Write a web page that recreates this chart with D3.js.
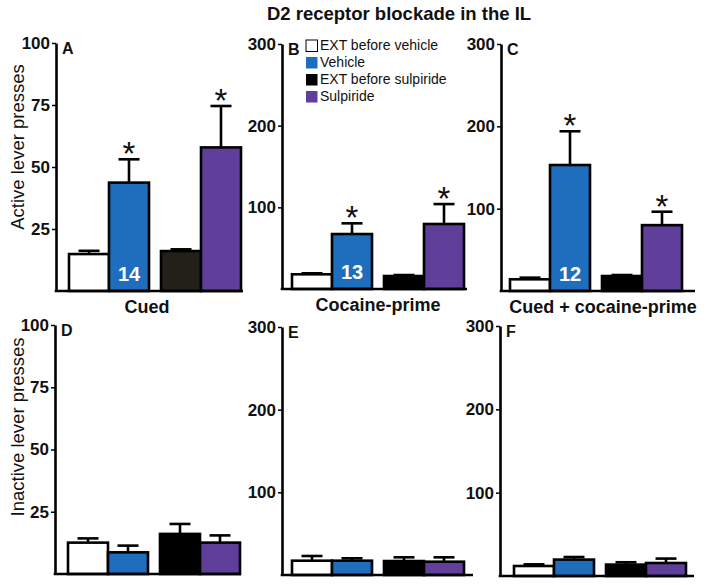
<!DOCTYPE html>
<html><head><meta charset="utf-8">
<script src="https://cdn.jsdelivr.net/npm/d3@7"></script>
<style>
html,body{margin:0;padding:0;background:#fff;}
svg{display:block;font-family:"Liberation Sans",Arial,sans-serif;}
</style></head>
<body>
<svg id="chart" width="708" height="585"></svg>
<script>
// ---------------- data ----------------
const title = "D2 receptor blockade in the IL";
const groups = ["EXT before vehicle", "Vehicle", "EXT before sulpiride", "Sulpiride"];
const tests = ["Cued", "Cocaine-prime", "Cued + cocaine-prime"];
const panelLetters = ["A", "B", "C", "D", "E", "F"];
const nLabels = ["14", "13", "12"];
const activeMeans = [[14.9, 43.7, 16.1, 57.9], [18.0, 67.3, 15.9, 79.6], [14.2, 153, 18.2, 80.0]];
const activeSEM   = [[1.3, 9.4, 0.7, 16.7], [1.2, 13.1, 1.2, 24.4], [2.0, 41.0, 1.2, 16.3]];
const activeSig   = [[false, true, false, true], [false, true, false, true], [false, true, false, true]];
const inactiveMeans = [[12.6, 8.7, 16.1, 12.6], [17.3, 17.3, 16.9, 16.1], [12.0, 19.7, 13.7, 15.6]];
const inactiveSEM   = [[1.7, 2.7, 4.0, 2.9], [5.7, 2.9, 4.5, 5.3], [2.0, 3.1, 2.8, 5.3]];
const yMax = [100, 300, 300];
const yTicks = [[25, 50, 75, 100], [100, 200, 300], [100, 200, 300]];
const yLabels = ["Active lever presses", "Inactive lever presses"];

// ---------------- layout / style ----------------
const colors = ["#ffffff", "#1f6ebe", "#000000", "#5f3f99"];
const layout = [
  {axisX: 56,  y0: 291, yTop: 43,  xEnd: 243, first: 69,  catX: 147},
  {axisX: 282, y0: 289, yTop: 44,  xEnd: 467, first: 292, catX: 378},
  {axisX: 501, y0: 291, yTop: 44,  xEnd: 695, first: 510, catX: 603},
  {axisX: 55,  y0: 574, yTop: 325, xEnd: 241, first: 68},
  {axisX: 282, y0: 575, yTop: 327, xEnd: 473, first: 292},
  {axisX: 500, y0: 576, yTop: 326, xEnd: 694, first: 514}
];
const SW = 2.6;

const svg = d3.select("#chart");

svg.append("text").attr("x", 399).attr("y", 20).attr("text-anchor", "middle")
  .attr("font-weight", "bold").attr("font-size", 18.5).attr("fill", "#111").text(title);

const pairs = ["vehicle", "sulpiride"];
const inner = ["ext", "drug"];

function drawPanel(idx, means, sems, sig, col) {
  const L = layout[idx];
  const g = svg.append("g");
  const y = d3.scaleLinear().domain([0, yMax[col]]).range([L.y0, L.yTop]);
  const xo = d3.scaleBand().domain(pairs).range([L.first, L.first + 172]).paddingInner(12 / 92).paddingOuter(0);
  const xi = d3.scaleBand().domain(inner).range([0, xo.bandwidth()]);
  const barX = i => xo(pairs[Math.floor(i / 2)]) + xi(inner[i % 2]);
  const bw = xi.bandwidth();

  const data = groups.map((gname, i) => ({i, gname, m: means[i], s: sems[i], sig: sig ? sig[i] : false}));

  // error bars (drawn behind bars)
  data.forEach(d => {
    const cx = barX(d.i) + bw / 2;
    g.append("line").attr("x1", cx).attr("x2", cx).attr("y1", y(d.m)).attr("y2", y(d.m + d.s))
      .attr("stroke", "#000").attr("stroke-width", SW);
    g.append("line").attr("x1", cx - 10.5).attr("x2", cx + 10.5).attr("y1", y(d.m + d.s)).attr("y2", y(d.m + d.s))
      .attr("stroke", "#000").attr("stroke-width", SW);
    if (d.sig) {
      g.append("text").attr("x", cx).attr("y", y(d.m + d.s) + 6).attr("text-anchor", "middle")
        .attr("font-size", 33).attr("fill", "#111").text("*");
    }
  });

  g.selectAll("rect.bar").data(data).join("rect").attr("class", "bar")
    .attr("x", d => barX(d.i)).attr("width", bw)
    .attr("y", d => y(d.m)).attr("height", d => y(0) - y(d.m))
    .attr("fill", d => (idx === 0 && d.i === 2) ? "#23201a" : colors[d.i])
    .attr("stroke", "#000").attr("stroke-width", SW);

  // axes
  const ax = d3.axisLeft(y).tickValues(yTicks[col]).tickSize(4).tickSizeOuter(0).tickPadding(2);
  const axg = g.append("g").attr("transform", `translate(${L.axisX},0)`).call(ax);
  axg.select(".domain").attr("stroke", "#000").attr("stroke-width", SW);
  axg.selectAll(".tick line").attr("stroke", "#000").attr("stroke-width", 1.5);
  axg.selectAll(".tick text").attr("font-size", 17).attr("font-weight", "bold")
    .attr("font-family", "Liberation Sans, Arial, sans-serif").attr("fill", "#111");
  g.append("line").attr("x1", L.axisX - SW / 2).attr("x2", L.xEnd).attr("y1", L.y0).attr("y2", L.y0)
    .attr("stroke", "#000").attr("stroke-width", SW);

  g.append("text").attr("x", L.axisX + 6).attr("y", L.yTop + 11).attr("font-weight", "bold")
    .attr("font-size", 16).attr("fill", "#111").text(panelLetters[idx]);

  return {g, barX, bw, y};
}

for (let c = 0; c < 3; c++) {
  const p = drawPanel(c, activeMeans[c], activeSEM[c], activeSig[c], c);
  p.g.append("text").attr("x", p.barX(1) + p.bw / 2).attr("y", layout[c].y0 - 10)
    .attr("text-anchor", "middle").attr("font-weight", "bold").attr("font-size", 20)
    .attr("fill", "#fff").text(nLabels[c]);
  svg.append("text").attr("x", layout[c].catX).attr("y", layout[c].y0 + 22)
    .attr("text-anchor", "middle").attr("font-weight", "bold").attr("font-size", 18)
    .attr("fill", "#111").text(tests[c]);
}
for (let c = 0; c < 3; c++) {
  drawPanel(c + 3, inactiveMeans[c], inactiveSEM[c], null, c);
}

// y labels
svg.append("text").attr("transform", "translate(24,147) rotate(-90)").attr("text-anchor", "middle")
  .attr("font-size", 18.5).attr("fill", "#111").text(yLabels[0]);
svg.append("text").attr("transform", "translate(24,427) rotate(-90)").attr("text-anchor", "middle")
  .attr("font-size", 18.5).attr("fill", "#111").text(yLabels[1]);

// legend
const leg = svg.append("g").attr("transform", "translate(306,50)");
groups.forEach((gname, i) => {
  const row = leg.append("g").attr("transform", `translate(0,${i * 17})`);
  row.append("rect").attr("x", 0).attr("y", -10).attr("width", 11.5).attr("height", 11.5)
    .attr("fill", colors[i]).attr("stroke", i === 0 ? "#000" : "none").attr("stroke-width", 1);
  row.append("text").attr("x", 14).attr("y", 0).attr("font-size", 14).attr("fill", "#111").text(gname);
});
</script>
</body></html>
